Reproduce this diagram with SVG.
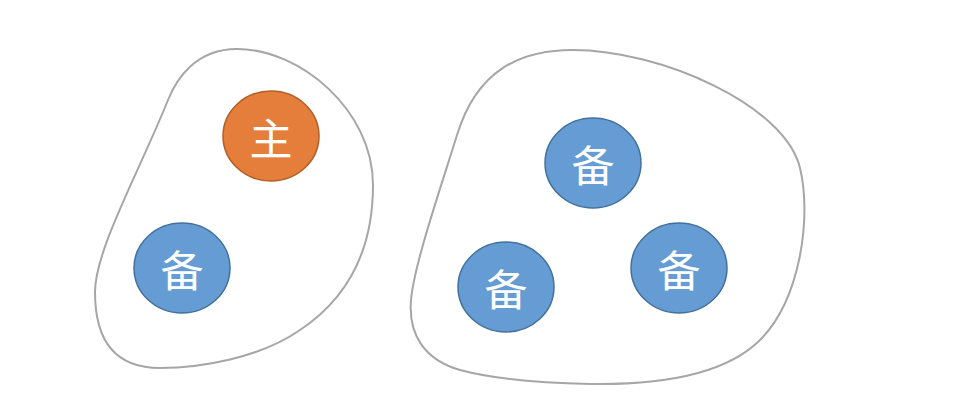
<svg xmlns="http://www.w3.org/2000/svg" width="978" height="419" viewBox="0 0 978 419">
<style>
.blob{fill:#fff;stroke:#A6A6A6;stroke-width:2}
.primary{fill:#E57D3B;stroke:#B05F27;stroke-width:1.5}
.backup{fill:#659CD3;stroke:#44719C;stroke-width:1.5}
.lbl{fill:#fff;font-family:"Noto Sans CJK SC","Noto Sans",sans-serif;font-size:43px;text-anchor:middle;dominant-baseline:central}
</style>
<rect width="978" height="419" fill="#fff"/>
<g id="group1">
<path class="blob" d="M237,49 C300,49 373,110 373,185 C373,255 345,300 300,330 C260,358 200,368 160,368 C115,368 95,340 95,292 C95,250 140,170 168,100 C176,80 195,49 237,49 Z"/>
</g>
<g id="group2">
<path class="blob" d="M573,50 C660,50 785,105 800,168 C812,218 800,300 760,340 C725,375 660,385 590,384 C540,383 490,378 460,370 C425,360 408,335 411,300 C414,265 440,190 457,135 C477,70 520,50 573,50 Z"/>
</g>
<g id="connectors"></g>
<g id="node-primary">
<ellipse class="primary" cx="271" cy="136" rx="48" ry="45"/>
<text class="lbl" x="271" y="136">主</text>
</g>
<g id="node-backup1">
<ellipse class="backup" cx="182" cy="268" rx="48" ry="45"/>
<text class="lbl" x="182" y="268">备</text>
</g>
<g id="node-backup2">
<ellipse class="backup" cx="593" cy="163" rx="48" ry="45"/>
<text class="lbl" x="593" y="163">备</text>
</g>
<g id="node-backup3">
<ellipse class="backup" cx="506" cy="287" rx="48" ry="45"/>
<text class="lbl" x="506" y="287">备</text>
</g>
<g id="node-backup4">
<ellipse class="backup" cx="679" cy="268" rx="48" ry="45"/>
<text class="lbl" x="679" y="268">备</text>
</g>
</svg>
